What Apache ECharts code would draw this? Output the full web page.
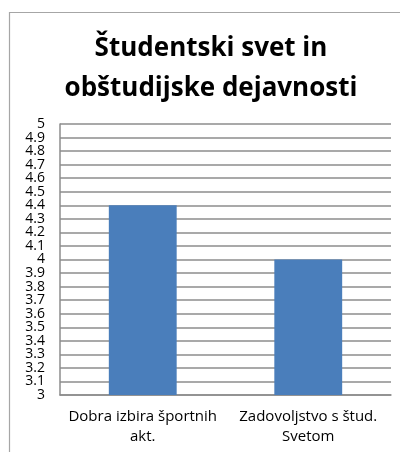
<!DOCTYPE html>
<html>
<head>
<meta charset="utf-8">
<script src="https://cdn.jsdelivr.net/npm/echarts@6/dist/echarts.min.js"></script>
<style>
    html, body { margin: 0; padding: 0; background: #fff; }
    #chart { width: 400px; height: 452px; }
</style>
</head>
<body>
<div id="chart"></div>
<script>
const categories = ['Dobra izbira športnih\nakt.', 'Zadovoljstvo s štud.\nSvetom']
const values = [4.4, 4.0]
const yMin = 3
const yMax = 5
const yStep = 0.1

const myChart = echarts.init(document.getElementById('chart'))

const labelStyle = {
    fontFamily: '"Open Sans", sans-serif',
    fontSize: 14,
    color: '#000'
}

const option = {
    animation: false,
    backgroundColor: '#fff',
    graphic: [{
        type: 'rect',
        shape: { x: 9.5, y: 12.5, width: 420, height: 460 },
        style: { fill: 'none', stroke: '#a6a6a6', lineWidth: 1.2 },
        silent: true
    }],
    title: {
        text: 'Študentski svet in\nobštudijske dejavnosti',
        left: 206,
        top: 24,
        textAlign: 'center',
        textStyle: {
            fontFamily: '"Open Sans", "DejaVu Sans", sans-serif',
            fontWeight: 'bold',
            fontSize: 26,
            lineHeight: 40,
            color: '#000'
        }
    },
    grid: {
        left: 60,
        top: 124,
        right: 9,
        bottom: 57
    },
    xAxis: {
        type: 'category',
        data: categories,
        axisLine: { show: true, lineStyle: { color: '#8c8c8c', width: 1.5 } },
        axisTick: { show: false },
        axisLabel: {
            margin: 12,
            interval: 0,
            fontFamily: '"Open Sans", sans-serif',
            fontSize: 15,
            lineHeight: 20,
            color: '#000'
        }
    },
    yAxis: [{
        type: 'value',
        min: yMin,
        max: yMax,
        interval: yStep,
        axisLine: { show: true, lineStyle: { color: '#8c8c8c', width: 1.5 } },
        axisTick: { show: false },
        splitLine: { lineStyle: { color: '#8c8c8c', width: 1.5 } },
        axisLabel: Object.assign({
            margin: 15,
            showMinLabel: false,
            showMaxLabel: false,
            hideOverlap: false,
            formatter: (v) => String(Math.round(v * 10) / 10)
        }, labelStyle)
    }, {
        // only carries the end labels 3 and 5
        type: 'value',
        position: 'left',
        offset: 0,
        min: yMin,
        max: yMax,
        interval: 1,
        axisLine: { show: false },
        axisTick: { show: false },
        splitLine: { show: false },
        axisLabel: Object.assign({
            margin: 15,
            showMinLabel: true,
            showMaxLabel: true,
            formatter: (v) => (v === yMin || v === yMax) ? String(v) : ''
        }, labelStyle)
    }],
    series: [{
        type: 'bar',
        data: values,
        barWidth: '41%',
        itemStyle: { color: '#4a7ebb' }
    }]
}

myChart.setOption(option)
</script>
</body>
</html>
